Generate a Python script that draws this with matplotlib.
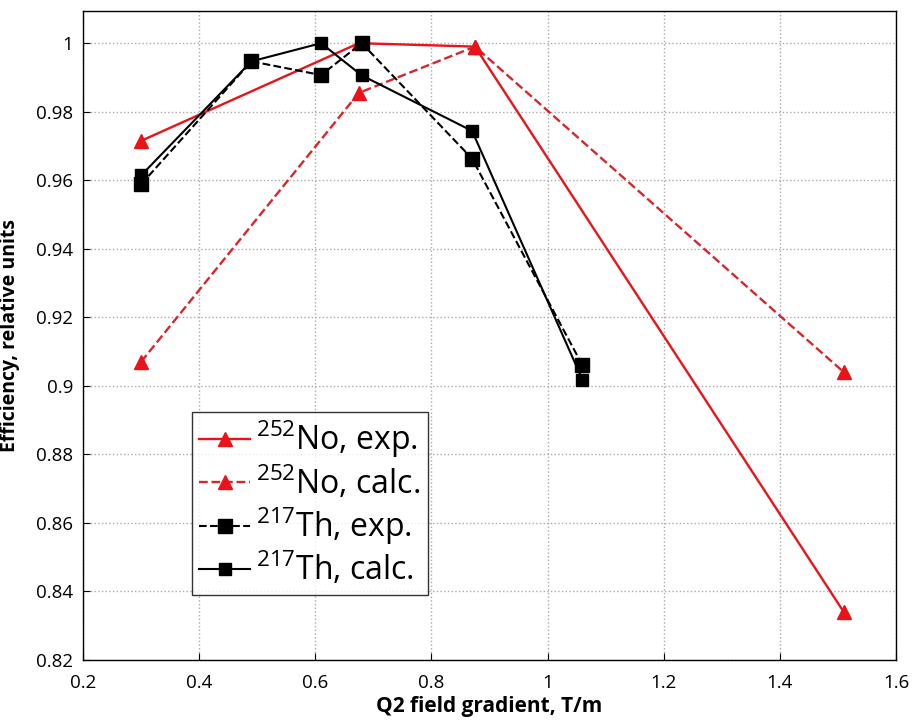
import matplotlib
matplotlib.use("Agg")
import matplotlib.pyplot as plt

# Q2 gradient scan, normalised transmission
no_x = [0.30, 0.675, 0.875, 1.51]
no_exp = [0.9715, 1.000, 0.999, 0.834]
no_calc = [0.907, 0.9855, 0.999, 0.904]

th_x = [0.30, 0.49, 0.61, 0.68, 0.87, 1.06]
th_exp = [0.9588, 0.9947, 0.9907, 1.000, 0.9663, 0.906]
th_calc = [0.9614, 0.9947, 1.000, 0.9906, 0.9744, 0.9018]

labels = [r"$^{252}$No, exp.", r"$^{252}$No, calc.",
          r"$^{217}$Th, exp.", r"$^{217}$Th, calc."]

plt.rcParams['font.family'] = ['Open Sans', 'DejaVu Sans']
plt.rcParams['mathtext.fontset'] = 'custom'
plt.rcParams['mathtext.rm'] = 'Open Sans'

red = '#e8141a'
fig = plt.figure(figsize=(9.16, 7.27), dpi=100)
ax = fig.add_axes([0.0906, 0.0922, 0.8876, 0.8927])

ax.plot(no_x, no_exp, '-', color=red, lw=1.7, marker='^', ms=10, label=labels[0])
ax.plot(no_x, no_calc, '--', color='#d8262a', lw=1.7, marker='^', ms=10,
        markerfacecolor=red, markeredgecolor=red, label=labels[1])
ax.plot(th_x, th_exp, '--', color='black', lw=1.5, marker='s', ms=10.5, label=labels[2])
ax.plot(th_x, th_calc, '-', color='black', lw=1.5, marker='s', ms=8, label=labels[3])

ax.set_xlim(0.2, 1.6)
ax.set_ylim(0.82, 1.0094)
ax.set_xticks([0.2, 0.4, 0.6, 0.8, 1.0, 1.2, 1.4, 1.6])
ax.set_xticklabels(['0.2', '0.4', '0.6', '0.8', '1', '1.2', '1.4', '1.6'])
ax.set_yticks([0.82, 0.84, 0.86, 0.88, 0.90, 0.92, 0.94, 0.96, 0.98, 1.0])
ax.set_yticklabels(['0.82', '0.84', '0.86', '0.88', '0.9', '0.92', '0.94',
                    '0.96', '0.98', '1'])
ax.tick_params(direction='in', length=5, labelsize=13.5, colors='black')
ax.tick_params(axis='x', pad=10)
ax.tick_params(axis='y', pad=7)
ax.grid(True, linestyle=':', color='#aaaaaa', lw=1)
for s in ax.spines.values():
    s.set_linewidth(1.0)
    s.set_color('black')

ax.set_xlabel('Q2 field gradient, T/m', fontsize=15, fontweight='bold', labelpad=3)
ax.set_ylabel('Efficiency, relative units', fontsize=14, fontweight='bold')
ax.yaxis.set_label_coords(-0.077, 0.5)

leg = ax.legend(loc='lower left', bbox_to_anchor=(0.134, 0.100), fontsize=23,
                frameon=True, fancybox=False, edgecolor='black',
                handlelength=1.6, handletextpad=0.2, borderpad=0.22,
                labelspacing=0.12, borderaxespad=0)
leg.get_frame().set_linewidth(1.0)

fig.savefig('out.png', dpi=100)
